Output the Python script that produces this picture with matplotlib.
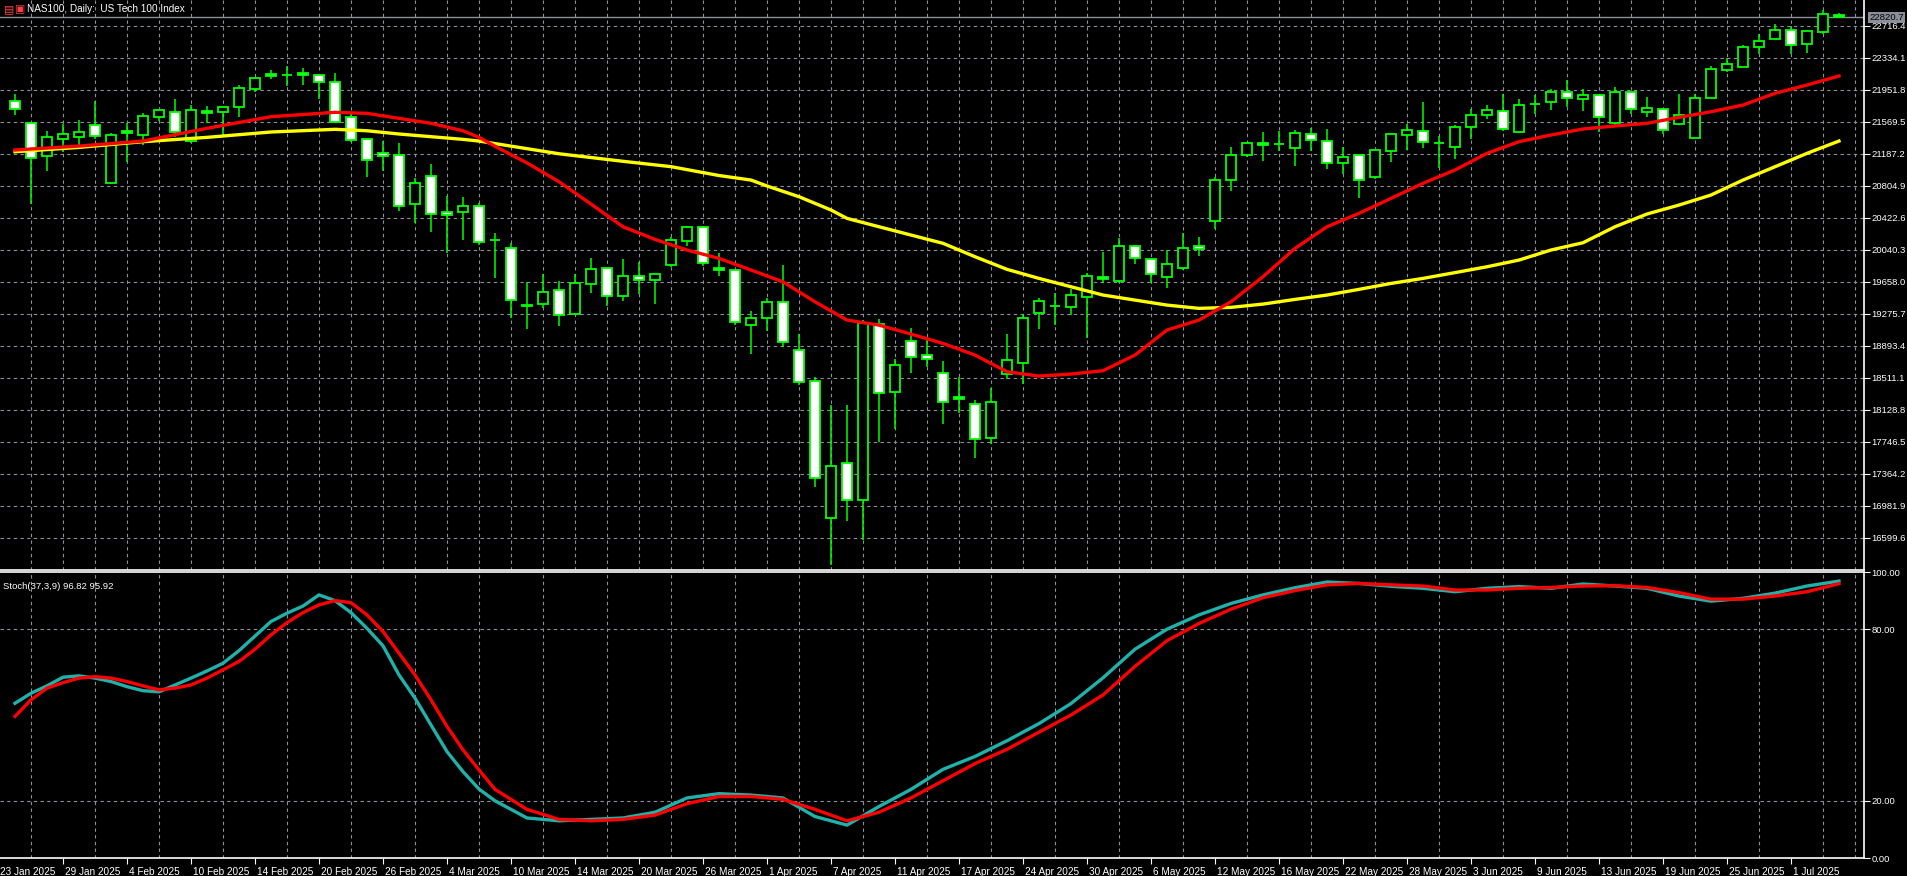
import numpy as np
import matplotlib
matplotlib.use("Agg")
import matplotlib.pyplot as plt
from matplotlib.transforms import blended_transform_factory

plt.rcParams["font.family"] = ["Liberation Sans", "DejaVu Sans"]

# daily candles, index 0 = first visible bar (O, H, L, C)
ohlc = [
    (21824, 21904, 21653, 21721), (21561, 21561, 20586, 21135), (21166, 21462, 20987, 21386),
    (21370, 21542, 21214, 21422), (21394, 21589, 21286, 21446), (21530, 21820, 21362, 21398),
    (20844, 21434, 20828, 21410), (21458, 21554, 21088, 21434), (21417, 21673, 21291, 21637),
    (21625, 21709, 21577, 21709), (21685, 21841, 21386, 21446), (21338, 21769, 21322, 21709),
    (21697, 21760, 21554, 21673), (21685, 21745, 21394, 21745), (21745, 22011, 21632, 21972),
    (21967, 22111, 21931, 22091), (22139, 22191, 22087, 22115), (22134, 22238, 22003, 22134),
    (22151, 22214, 22011, 22127), (22127, 22127, 21844, 22044), (22044, 22151, 21566, 21566),
    (21625, 21680, 21330, 21350), (21362, 21362, 20915, 21111), (21195, 21338, 20987, 21159),
    (21171, 21314, 20509, 20562), (20586, 20896, 20366, 20836), (20920, 21067, 20258, 20466),
    (20490, 20685, 20007, 20454), (20490, 20673, 20159, 20562), (20562, 20600, 20100, 20132),
    (20159, 20246, 19709, 20159), (20060, 20120, 19223, 19438), (19386, 19657, 19099, 19367),
    (19391, 19749, 19350, 19534), (19558, 19665, 19135, 19259), (19271, 19749, 19271, 19641),
    (19630, 19940, 19529, 19809), (19821, 19821, 19367, 19486), (19486, 19928, 19434, 19725),
    (19733, 19892, 19510, 19677), (19677, 19749, 19391, 19749), (19857, 20199, 19833, 20156),
    (20151, 20326, 20091, 20311), (20311, 20326, 19845, 19884), (19828, 19999, 19732, 19797),
    (19797, 19797, 19150, 19176), (19140, 19311, 18793, 19223), (19223, 19470, 19075, 19414),
    (19414, 19857, 18884, 18937), (18841, 19032, 18430, 18458), (18471, 18525, 17204, 17311),
    (16833, 18184, 16279, 17459), (17490, 18184, 16798, 17049), (17049, 19203, 16574, 19171),
    (19152, 19211, 17749, 18327), (18339, 18740, 17904, 18662), (18956, 19104, 18573, 18757),
    (18781, 18984, 18645, 18733), (18566, 18709, 17964, 18219), (18283, 18525, 18088, 18256),
    (18195, 18247, 17557, 17777), (17789, 18386, 17718, 18219), (18554, 19032, 18494, 18721),
    (18685, 19271, 18434, 19223), (19283, 19462, 19092, 19426), (19370, 19529, 19140, 19370),
    (19355, 19570, 19259, 19498), (19474, 19761, 18984, 19725), (19713, 20012, 19641, 19689),
    (19665, 20179, 19641, 20084), (20084, 20096, 19869, 19940), (19928, 19928, 19641, 19749),
    (19713, 20036, 19582, 19868), (19820, 20246, 19797, 20060), (20084, 20191, 19964, 20048),
    (20382, 20908, 20287, 20872), (20872, 21267, 20741, 21171), (21171, 21314, 21147, 21314),
    (21314, 21446, 21106, 21290), (21310, 21458, 21226, 21310), (21255, 21470, 21040, 21434),
    (21422, 21494, 21226, 21350), (21338, 21482, 21004, 21076), (21076, 21267, 20944, 21147),
    (21171, 21171, 20657, 20872), (20908, 21231, 20884, 21231), (21219, 21434, 21088, 21422),
    (21410, 21542, 21231, 21470), (21458, 21805, 21255, 21326), (21314, 21398, 21016, 21314),
    (21267, 21530, 21123, 21506), (21506, 21721, 21362, 21649), (21649, 21769, 21601, 21709),
    (21697, 21900, 21458, 21482), (21446, 21840, 21446, 21769), (21788, 21888, 21661, 21788),
    (21804, 21960, 21709, 21924), (21924, 22067, 21745, 21852), (21840, 21960, 21697, 21888),
    (21888, 21888, 21446, 21625), (21554, 21984, 21530, 21924), (21924, 21924, 21661, 21721),
    (21685, 21864, 21625, 21733), (21721, 21721, 21422, 21470), (21541, 21900, 21530, 21649),
    (21374, 21900, 21374, 21852), (21852, 22238, 21852, 22199), (22187, 22330, 22163, 22259),
    (22223, 22486, 22223, 22462), (22462, 22617, 22378, 22534), (22557, 22737, 22557, 22665),
    (22665, 22713, 22378, 22486), (22498, 22653, 22390, 22653), (22641, 22904, 22617, 22856),
    (22844, 22868, 22820, 22820.7),
]
last_price = 22820.7

ma_fast_idx = [0, 4, 8, 12, 16, 20, 22, 24, 26, 28, 29, 30, 32, 34, 36, 38, 40, 42, 44, 46, 48, 50,
               52, 54, 56, 58, 60, 62, 64, 66, 68, 70, 72, 74, 76, 78, 80, 82, 84, 86, 88, 90, 92,
               94, 96, 98, 100, 102, 104, 106, 108, 110, 112, 114]
ma_fast = [21235, 21282, 21342, 21494, 21633, 21685, 21673, 21613, 21554, 21465, 21386, 21280,
           21080, 20856, 20589, 20318, 20167, 20040, 19940, 19801, 19660, 19422, 19203, 19143,
           19036, 18924, 18785, 18586, 18534, 18558, 18598, 18785, 19084, 19203, 19422, 19721,
           20060, 20318, 20478, 20657, 20837, 20996, 21195, 21334, 21414, 21486, 21522, 21554,
           21625, 21692, 21772, 21912, 22011, 22119]
ma_slow_idx = [0, 4, 8, 12, 16, 20, 22, 24, 26, 28, 29, 34, 38, 41, 44, 46, 47, 49, 51, 52, 54, 56,
               58, 60, 62, 64, 66, 68, 70, 72, 74, 76, 78, 80, 82, 84, 86, 88, 90, 92, 94, 96, 98,
               100, 102, 104, 106, 108, 110, 112, 114]
ma_slow = [21214, 21266, 21334, 21386, 21450, 21482, 21465, 21426, 21394, 21362, 21342, 21190,
           21100, 21036, 20930, 20876, 20805, 20677, 20518, 20418, 20318, 20219, 20120, 19960,
           19809, 19701, 19601, 19502, 19442, 19382, 19343, 19355, 19394, 19450, 19502, 19570,
           19641, 19701, 19770, 19840, 19920, 20040, 20127, 20318, 20470, 20577, 20697, 20876,
           21035, 21195, 21342]

stoch_idx = list(range(0, 30)) + list(range(30, 87, 2)) + list(range(88, 115, 2))
stoch_main = [54.1, 57.6, 60.2, 63.2, 63.7, 62.9, 61.7, 59.9, 58.5, 58.1, 60.5, 62.9, 65.4, 68.1,
              72.5, 77.6, 82.7, 85.6, 88.1, 92.0, 90.0, 85.8, 80.3, 74.2, 64.0, 55.9, 46.5, 37.2,
              30.2, 24.1,
              20, 14, 13, 13.5, 14, 16, 21, 22.5, 22, 21, 14.5, 11.5, 18, 24, 31, 35.5, 41, 47, 54,
              63, 73, 80, 85, 89, 92, 94.5, 96.5, 96, 95,
              94.3, 93.1, 94.3, 94.9, 94.3, 95.8, 95.1, 94.3, 91.6, 89.8, 90.8, 92.6, 95.1, 96.82]
stoch_signal = [49.5, 55.3, 59.4, 61.3, 62.9, 63.4, 62.9, 61.7, 60.2, 58.8, 59.4, 60.5, 62.9, 65.8,
                68.7, 73.0, 78.0, 82.3, 85.8, 88.5, 90.0, 89.3, 85.0, 79.2, 71.6, 64.0, 55.3, 46.0,
                37.8, 30.8,
                24, 17, 13.5, 13, 13.5, 15, 19, 21.5, 21.5, 20.5, 17, 13, 16, 21, 27, 33, 38, 44, 50,
                57, 67, 76, 82, 87, 91, 93.5, 95.5, 96, 95.5,
                95.1, 93.7, 93.7, 94.3, 94.6, 95.1, 95.2, 94.6, 92.8, 90.5, 90.5, 91.6, 93.1, 95.92]

price_ticks = [22716.4 - 382.3 * k for k in range(17)]
date_labels = ["23 Jan 2025", "29 Jan 2025", "4 Feb 2025", "10 Feb 2025", "14 Feb 2025",
               "20 Feb 2025", "26 Feb 2025", "4 Mar 2025", "10 Mar 2025", "14 Mar 2025",
               "20 Mar 2025", "26 Mar 2025", "1 Apr 2025", "7 Apr 2025", "11 Apr 2025",
               "17 Apr 2025", "24 Apr 2025", "30 Apr 2025", "6 May 2025", "12 May 2025",
               "16 May 2025", "22 May 2025", "28 May 2025", "3 Jun 2025", "9 Jun 2025",
               "13 Jun 2025", "19 Jun 2025", "25 Jun 2025", "1 Jul 2025"]

LIME = "#00ff00"
GRID = "#8c909c"
FS = 6.8

W, H = 1907, 876
fig = plt.figure(figsize=(W / 100, H / 100), dpi=100, facecolor="black")
ax = fig.add_axes([0, (H - 570) / H, 1864 / W, 570 / H], facecolor="black")
ax2 = fig.add_axes([0, (H - 858) / H, 1864 / W, 286 / H], facecolor="black")

xlim = (-15 / 16, (1864 - 15) / 16)
for a in (ax, ax2):
    a.set_xlim(*xlim)
    for s in a.spines.values():
        s.set_color("white")
        s.set_linewidth(1.2)
    a.spines["left"].set_visible(False)
    a.yaxis.tick_right()
    a.tick_params(axis="y", colors="white", labelsize=FS, length=4, width=0.8, pad=1.5)
    a.set_xticks(np.arange(1, 116, 2), minor=True)
    a.grid(True, which="minor", axis="x", color=GRID, ls=(0, (3, 3)), lw=0.8)
ax.spines["top"].set_visible(False)

# main price panel
ax.set_ylim(23027 - 11.947 * 570, 23027)
ax.set_yticks(price_ticks)
ax.set_yticklabels([f"{p:.1f}" for p in price_ticks])
ax.grid(True, which="major", axis="y", color=GRID, ls=(0, (3, 3)), lw=0.8)
ax.tick_params(axis="x", which="both", length=0, labelbottom=False)

idx = np.arange(len(ohlc))
o, h, l, c = (np.array(v, dtype=float) for v in zip(*ohlc))
ax.vlines(idx, l, h, color=LIME, lw=1.1, zorder=2)
bull = c >= o
body_lo = np.minimum(o, c)
body_h = np.maximum(np.abs(c - o), 1.0)
ax.bar(idx[bull], body_h[bull], bottom=body_lo[bull], width=0.66,
       color="black", edgecolor=LIME, lw=1.3, zorder=3)
ax.bar(idx[~bull], body_h[~bull], bottom=body_lo[~bull], width=0.66,
       color="white", edgecolor=LIME, lw=1.3, zorder=3)

ax.plot(ma_slow_idx, ma_slow, color="#ffff00", lw=2.4, zorder=4)
ax.plot(ma_fast_idx, ma_fast, color="#ff0000", lw=2.4, zorder=4)

ax.axhline(last_price, color="#8a8f99", lw=1, zorder=1)
tr = blended_transform_factory(ax.transAxes, ax.transData)
ax.text(1.003, last_price, f"{last_price:.1f}", transform=tr, color="black", fontsize=FS,
        va="center", ha="left", zorder=6,
        bbox=dict(facecolor="#8a8f99", edgecolor="none", pad=0.8))

fig.text(27 / W, 1 - 9 / H, "NAS100, Daily:  US Tech 100 Index", color="white",
         fontsize=FS + 0.4, va="center", ha="left")
fig.text(4 / W, 1 - 9 / H, "\u25a4", color="#ff4040", fontsize=FS + 1,
         va="center", ha="left", family="DejaVu Sans")
fig.text(15 / W, 1 - 9 / H, "\u25a3", color="#ff4040", fontsize=FS + 1,
         va="center", ha="left", family="DejaVu Sans")

# stochastic panel
ax2.set_ylim(0, 100)
ax2.set_yticks([0, 20, 80, 100])
ax2.set_yticklabels(["0.00", "20.00", "80.00", "100.00"])
ax2.axhline(20, color=GRID, ls=(0, (3, 3)), lw=0.8)
ax2.axhline(80, color=GRID, ls=(0, (3, 3)), lw=0.8)
ax2.plot(stoch_idx, stoch_main, color="#20b2aa", lw=2.4, zorder=3)
ax2.plot(stoch_idx, stoch_signal, color="#ff0000", lw=2.4, zorder=4)
ax2.text(3 / 1864, 0.965, f"Stoch(37,3,9) {stoch_main[-1]:.2f} {stoch_signal[-1]:.2f}",
         transform=ax2.transAxes, color="white", fontsize=FS, va="top", ha="left")

tick_idx = [-1 + 4 * k for k in range(len(date_labels))]
ax2.set_xticks(tick_idx[1:])
ax2.set_xticklabels([])
ax2.tick_params(axis="x", which="major", colors="white", length=4, width=0.8)
ax2.tick_params(axis="x", which="minor", length=0)
for k, (ti, lab) in enumerate(zip(tick_idx, date_labels)):
    x = xlim[0] if k == 0 else ti + 0.1
    ax2.text(x, -3.0, lab, color="white", fontsize=FS + 0.4, va="top", ha="left",
             clip_on=False)

fig.savefig("out.png", dpi=100, facecolor="black")
